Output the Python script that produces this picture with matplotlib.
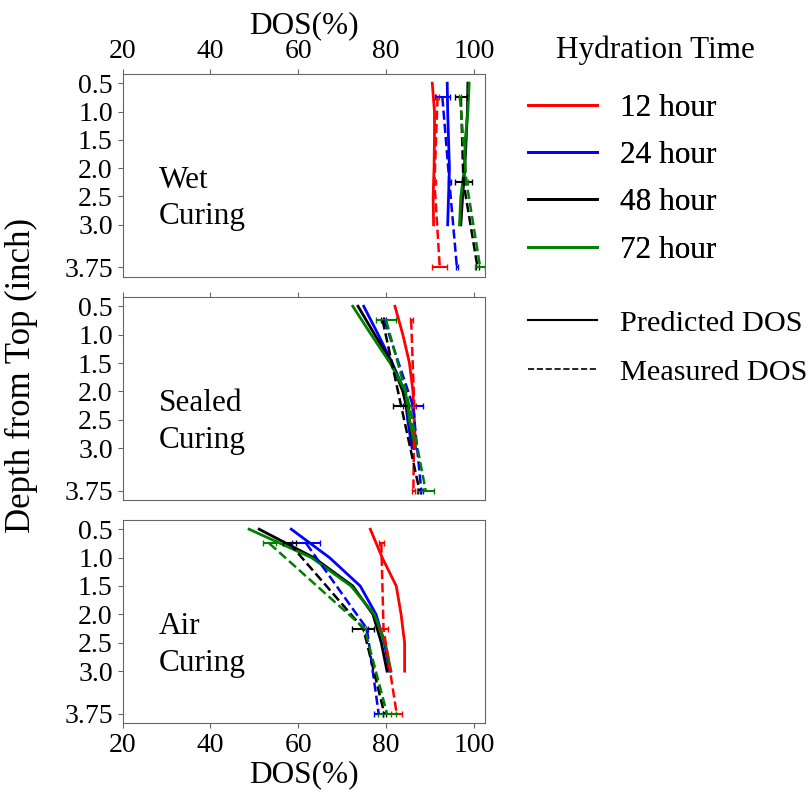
import matplotlib
matplotlib.use("Agg")
import matplotlib.pyplot as plt
from matplotlib.lines import Line2D

plt.rcParams['font.family'] = ['Liberation Serif', 'DejaVu Serif']

# depth of the model nodes and of the measured samples (inch)
depth_pred = [0.5, 1.0, 1.5, 2.0, 2.5, 3.0]
depth_meas = [0.75, 2.25, 3.75]
depth_ticks = [0.5, 1.0, 1.5, 2.0, 2.5, 3.0, 3.75]
depth_labels = ['0.5', '1.0', '1.5', '2.0', '2.5', '3.0', '3.75']
dos_ticks = [20, 40, 60, 80, 100]

hours = ['12 hour', '24 hour', '48 hour', '72 hour']
colors = ['red', 'blue', 'black', 'green']
curing = ['Wet\nCuring', 'Sealed\nCuring', 'Air\nCuring']

# predicted DOS (%) per hydration time, rows follow `hours`
wet_pred = [
    [90.5, 91.0, 91.0, 90.9, 90.7, 90.8],
    [93.9, 94.0, 94.2, 94.4, 94.2, 94.0],
    [98.6, 98.5, 98.2, 97.9, 97.4, 97.0],
    [98.9, 98.6, 98.0, 97.8, 97.0, 96.7],
]
sealed_pred = [
    [82.0, 83.8, 85.3, 86.1, 86.4, 86.7],
    [74.9, 78.2, 81.4, 84.2, 84.9, 85.9],
    [73.6, 77.4, 81.3, 83.8, 85.3, 86.4],
    [72.4, 76.6, 80.9, 84.4, 85.3, 86.7],
]
air_pred = [
    [76.4, 79.1, 82.3, 83.4, 84.2, 84.2],
    [58.4, 67.1, 74.1, 77.7, 79.6, 80.8],
    [51.1, 63.5, 72.4, 77.0, 78.9, 80.2],
    [48.8, 63.0, 72.0, 77.3, 79.8, 81.1],
]

# measured DOS (%) and spread
wet_meas = [
    [91.7, 91.0, 92.2],
    [92.8, 94.4, 96.1],
    [97.0, 97.6, 100.8],
    [96.8, 98.3, 101.4],
]
wet_err = [
    [0.3, 0.4, 1.7],
    [1.7, 0.3, 0.3],
    [1.3, 1.9, 0.3],
    [0.3, 0.3, 1.1],
]
sealed_meas = [
    [85.7, 86.4, 86.2],
    [79.6, 86.1, 88.0],
    [79.2, 83.4, 87.6],
    [80.0, 85.3, 89.0],
]
sealed_err = [
    [0.3, 0.3, 0.3],
    [0.3, 2.3, 0.3],
    [0.3, 1.9, 0.3],
    [2.3, 0.3, 2.0],
]
air_meas = [
    [78.9, 79.4, 82.4],
    [61.8, 75.6, 78.3],
    [58.0, 74.8, 79.6],
    [53.4, 75.1, 80.2],
]
air_err = [
    [0.6, 1.1, 1.2],
    [3.2, 0.3, 1.0],
    [1.5, 2.5, 0.3],
    [1.5, 0.3, 2.1],
]

panels = [
    (wet_pred, wet_meas, wet_err),
    (sealed_pred, sealed_meas, sealed_err),
    (air_pred, air_meas, air_err),
]

fig = plt.figure(figsize=(8.12, 7.98), dpi=100)
boxes = [
    [0.1509, 0.6535, 0.4464, 0.2538],
    [0.1509, 0.3734, 0.4464, 0.2544],
    [0.1509, 0.0940, 0.4464, 0.2544],
]

for n, (box, (pred, meas, err)) in enumerate(zip(boxes, panels)):
    ax = fig.add_axes(box)
    for k in range(4):
        ax.plot(pred[k], depth_pred, color=colors[k], lw=2)
    for k in range(4):
        ax.errorbar(meas[k], depth_meas, xerr=err[k], fmt='--', color=colors[k],
                    lw=1.8, elinewidth=1.5, capsize=2.5)
    ax.set_xlim(20, 102.5)
    ax.set_ylim(3.9125, 0.3375)
    ax.set_yticks(depth_ticks)
    ax.set_yticklabels(depth_labels)
    ax.set_xticks(dos_ticks)
    ax.tick_params(labelsize=20, color='0.4')
    for sp in ax.spines.values():
        sp.set_color('0.4')
    ax.text(0.1, 0.385, curing[n], transform=ax.transAxes, fontsize=22.5,
            va='center', ha='left', linespacing=1.35)
    if n == 0:
        ax.xaxis.tick_top()
        ax.xaxis.set_label_position('top')
        ax.set_xlabel('DOS(%)', fontsize=22.5)
    elif n == 1:
        ax.xaxis.tick_top()
        ax.set_xticklabels([])
    else:
        ax.set_xlabel('DOS(%)', fontsize=22.5, labelpad=2)

fig.text(0.027, 0.53, 'Depth from Top (inch)', rotation=90, fontsize=25,
         va='center', ha='center')

fig.text(0.807, 0.937, 'Hydration Time', fontsize=22.5, ha='center', va='center')
time_handles = [Line2D([], [], color=c, lw=2) for c in colors]
leg1 = fig.legend(time_handles, hours, loc='upper left', bbox_to_anchor=(0.650, 0.882),
                  frameon=False, fontsize=22.5, handlelength=2.2, handletextpad=0.74,
                  labelspacing=0.58, borderpad=0, borderaxespad=0)
fig.add_artist(leg1)

kind_handles = [Line2D([], [], color='black', lw=1.5),
                Line2D([], [], color='black', lw=1.2, ls='--')]
fig.legend(kind_handles, ['Predicted DOS', 'Measured DOS'], loc='upper left',
           bbox_to_anchor=(0.650, 0.612), frameon=False, fontsize=21.8,
           handlelength=2.27, handletextpad=0.76, labelspacing=0.72,
           borderpad=0, borderaxespad=0)

fig.savefig('out.png', dpi=100)
